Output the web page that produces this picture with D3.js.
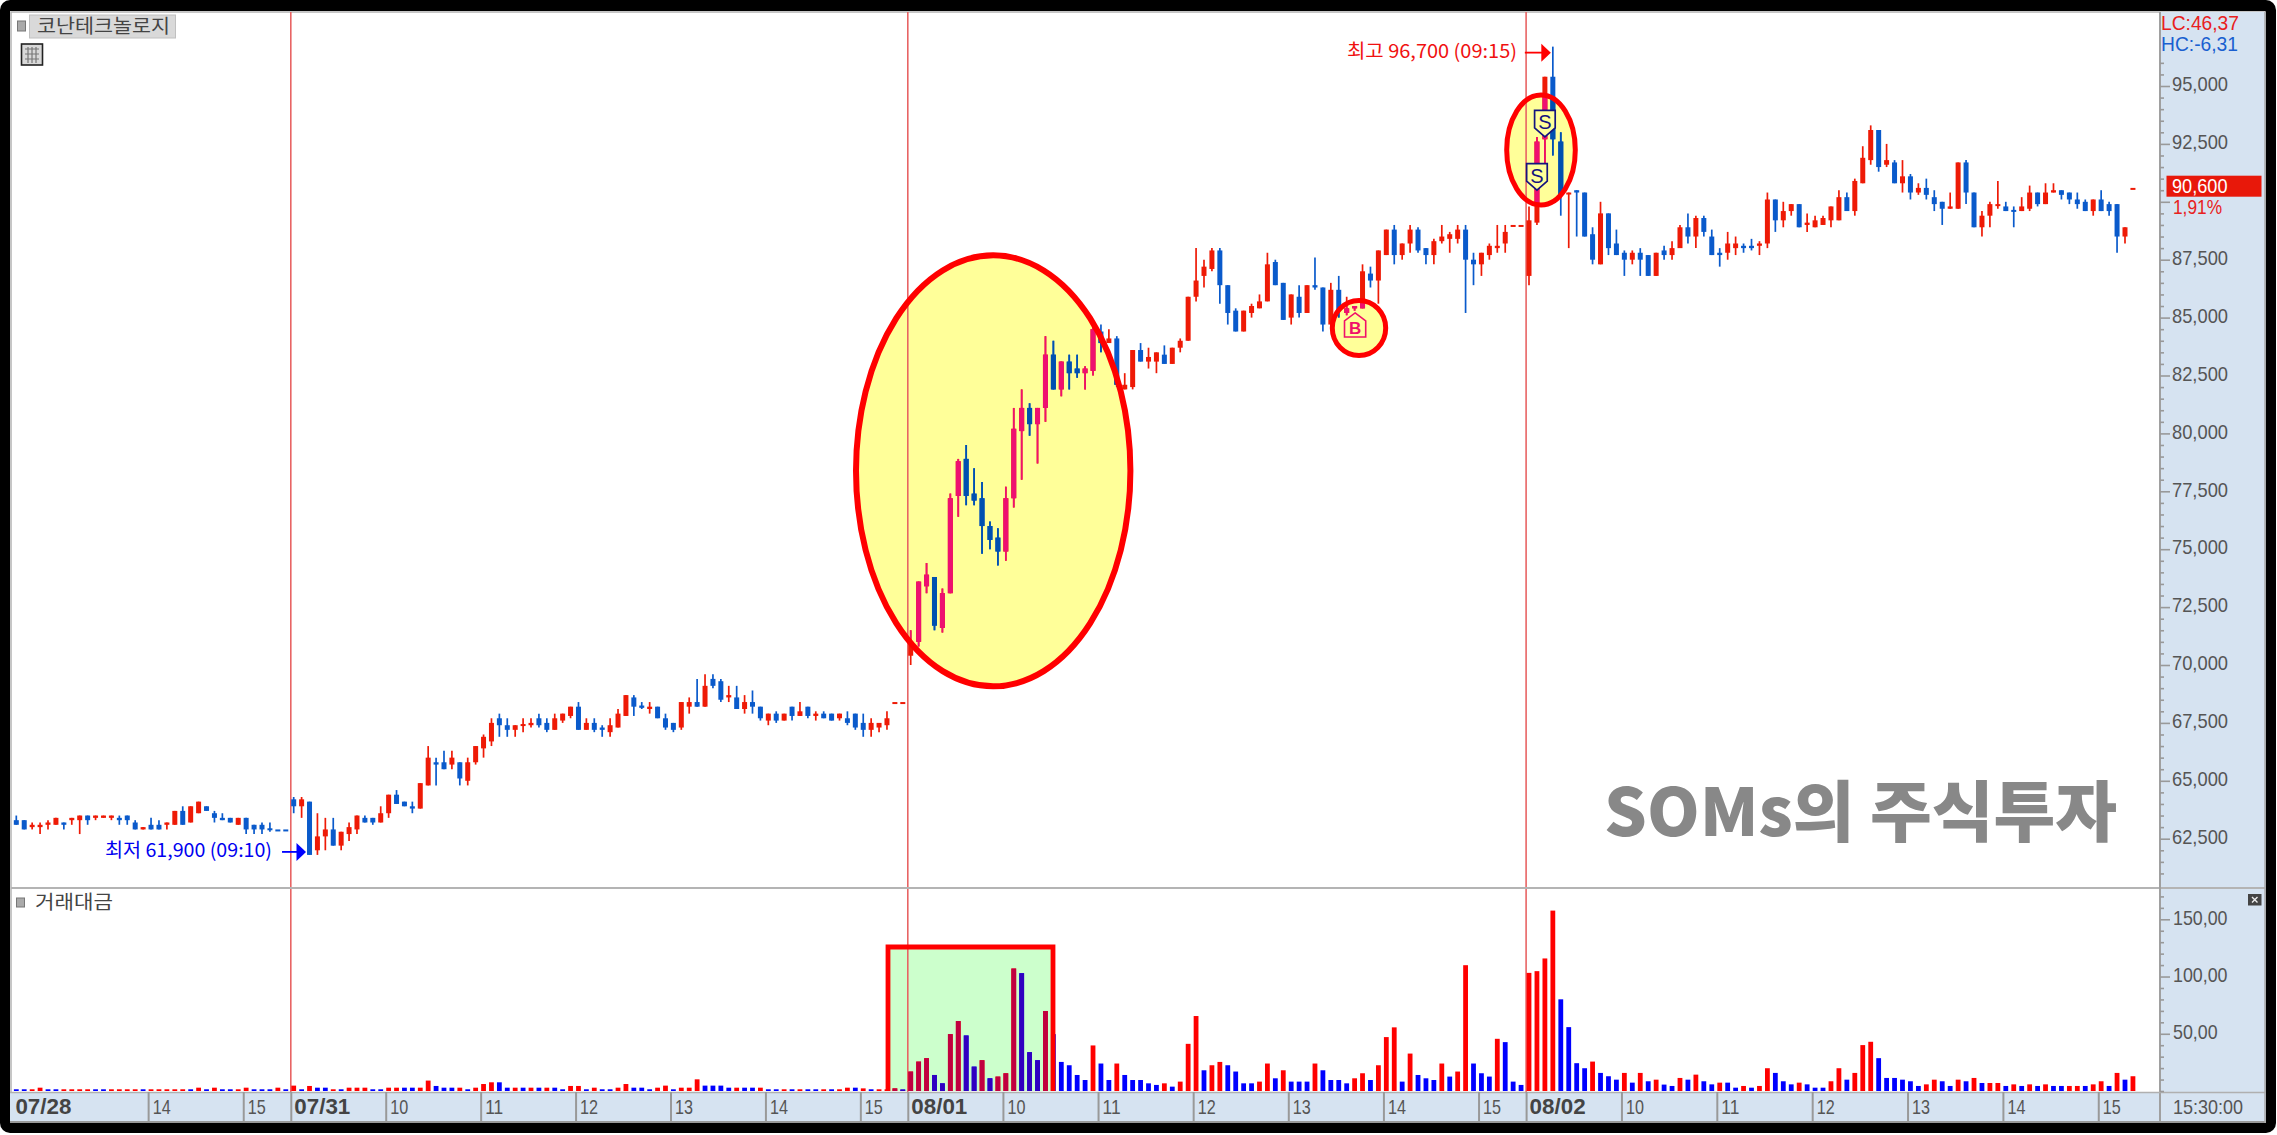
<!DOCTYPE html>
<html><head><meta charset="utf-8">
<script src="https://cdn.jsdelivr.net/npm/d3@7"></script>
<style>html,body{margin:0;padding:0;background:#fff;overflow:hidden}svg{display:block}</style>
</head><body><svg id="c" width="2277" height="1135"></svg>
<script>
// [open, high, low, close]
const candlesJul28=[[63300,63500,63100,63100],[63300,63300,62900,62900],[63000,63200,62900,63100],[63000,63200,62700,63100],[63100,63300,62900,63200],[63100,63400,63100,63400],[63200,63200,62900,63100],[63300,63400,63100,63400],[63300,63500,62700,63500],[63500,63500,63100,63300],[63400,63500,63300,63500],[63400,63500,63400,63500],[63400,63500,63300,63500],[63400,63500,63100,63300],[63500,63500,63100,63300],[63200,63300,62900,62900],[62900,63000,62900,63000],[63100,63400,62900,62900],[63100,63300,62900,62900],[63100,63200,62900,63200],[63100,63700,63100,63700],[63700,63900,63100,63100],[63200,63900,63200,63900],[63600,64100,63600,64100],[63900,63900,63700,63700],[63600,63700,63200,63400],[63400,63600,63300,63300],[63400,63400,63200,63200],[63100,63400,63100,63400],[63400,63400,62700,62900],[63100,63100,62700,62900],[63100,63200,62700,62900],[62950,63200,62800,62900],[62900,62900,62900,62890],[62900,62900,62900,62890]];
const candlesJul31=[[64200,64300,63600,63900],[63900,64300,63400,64200],[64100,64100,61800,61800],[62000,63600,61800,62600],[62600,63400,62000,62900],[62900,63400,62200,62200],[62200,62800,62000,62800],[62700,63200,62400,63000],[62900,63500,62700,63500],[63400,63500,63200,63200],[63400,63400,63100,63200],[63200,63900,63200,63600],[63600,64400,63400,64400],[64400,64600,64000,64000],[64100,64100,63900,63900],[63900,64100,63600,63800],[63800,64900,63800,64900],[64800,66500,64800,66000],[65800,66000,64800,65700],[65800,66300,65500,65500],[65700,66300,65500,66000],[65800,65800,64800,65100],[65000,66000,64800,65800],[65800,66500,65700,66500],[66400,67000,66000,66900],[66700,67700,66500,67500],[67700,67900,66900,67400],[67400,67700,66900,67200],[67200,67400,66900,67400],[67400,67700,67100,67450],[67400,67700,67300,67500],[67700,67900,67300,67400],[67500,67700,67100,67200],[67200,67900,67200,67700],[67600,67900,67500,67900],[67800,68200,67700,68200],[68200,68400,67200,67200],[67200,67700,67200,67500],[67500,67700,67100,67200],[67300,67400,66900,67200],[67100,67700,66900,67400],[67300,68100,67300,67900],[67800,68700,67800,68700],[68600,68700,67800,68200],[68250,68400,68100,68150],[68100,68400,67900,68200],[68200,68200,67700,67700],[67700,67900,67200,67300],[67500,67500,67100,67200],[67300,68400,67200,68400],[68200,68600,67900,68400],[68400,69400,68200,68200],[68200,69600,68200,69100],[69400,69600,69000,69100],[69300,69400,68400,68500],[68600,69100,68400,68700],[68600,69100,68100,68100],[68100,68700,67900,68400],[68400,68900,67900,68200],[68200,68200,67600,67700],[67600,67900,67400,67900],[67900,68000,67500,67600],[67600,67900,67600,67900],[68200,68200,67600,67800],[67800,68400,67800,68000],[68200,68200,67700,67800],[67800,68000,67600,67900],[67900,68000,67700,67700],[67900,67900,67600,67600],[67700,67900,67600,67900],[67700,68000,67400,67500],[67900,67900,67200,67300],[67500,67900,66900,67200],[67200,67700,66900,67500],[67300,67500,67100,67500],[67400,68000,67200,67700],[68400,68400,68400,68400],[68400,68400,68400,68400]];
const candlesAug01=[[70400,71500,70000,71000],[71000,73600,70800,73600],[73400,74400,73100,73900],[73800,73800,71500,71700],[71600,73300,71400,73100],[73100,77400,73100,77200],[77300,78900,76400,78800],[78900,79500,76900,77300],[77400,78500,76900,77100],[77200,77900,74800,76000],[76000,76200,75000,75400],[75500,75900,74300,74900],[74900,77700,74500,77200],[77200,81100,76800,80200],[80100,81900,78000,81100],[81100,81300,79900,80400],[80400,81100,78700,81100],[81100,84200,80500,83400],[83400,84000,81900,81900],[81900,83100,81600,83100],[83100,83400,81900,82600],[82800,83400,82400,82600],[82600,82900,81900,82800],[82700,84600,82500,84500],[84400,84700,83500,83900],[83900,84500,83900,84100],[84100,84200,82000,82100],[81900,82600,81900,82100],[82000,83600,81900,83600],[83600,83900,83100,83100],[83100,83700,82800,83300],[83100,83500,82600,83500],[83400,83800,83000,83000],[83000,83700,83000,83700],[83700,84100,83500,84000],[84000,85900,84000,85900],[85900,88000,85700,86600],[86800,87500,86300,87200],[87100,88000,87000,87900],[87900,88000,85600,86400],[86400,86400,84700,85200],[85300,85400,84400,84400],[84400,85300,84400,85300],[85200,85600,85000,85500],[85400,86000,85400,85700],[85700,87800,85700,87300],[87400,87500,86400,86400],[86500,86500,84900,84900],[85000,86000,84700,86000],[85900,86400,85000,85200],[85200,86400,85200,86400],[86400,87600,86200,86300],[86300,86300,84400,84700],[84700,86500,84500,86200],[86200,86800,85000,85300],[85200,85900,85100,85400],[85400,85500,85300,85500],[85400,87300,85400,87000],[86900,87200,86300,86600],[86600,87900,85600,87900],[87700,88800,87700,88800],[88800,89000,87300,87700],[87700,88200,87500,88200],[88200,89000,87800,88800],[88800,88900,87800,87900],[88000,88000,87300,87700],[87700,88400,87300,88300],[88300,89000,88200,88500],[88400,88700,87800,88600],[88400,89000,88200,88800],[88800,89000,85200,87500],[87500,87800,86400,87300],[87300,87800,86800,87800],[87700,88200,87500,88100],[88000,89000,87800,88100],[88200,89000,87800,88700],[89000,89000,89000,89000],[89000,89000,89000,89000]];
const candlesAug02=[[86800,89800,86400,89200],[89100,92800,89000,92600],[92700,95400,91600,95400],[95400,96700,92000,92700],[92600,93000,89400,90300],[90350,90400,88000,90400],[90500,90500,88500,90400],[90400,90400,88500,88500],[88600,88900,87300,87500],[87300,90000,87300,89500],[89500,89500,87700,88000],[88200,88800,87700,87700],[87800,87900,86800,87500],[87500,87900,87300,87800],[87800,88000,86800,87500],[87700,87700,86800,86800],[86800,87800,86800,87800],[87900,88100,87500,87700],[87700,88300,87500,88000],[88000,89000,88000,88900],[88900,89500,88200,88500],[88500,89400,88000,89300],[89300,89400,88500,88700],[88500,88800,87700,87700],[87800,88000,87200,87700],[87800,88700,87500,88200],[88000,88500,87700,88200],[88100,88200,87800,88000],[88100,88400,87900,88000],[88100,88300,87700,88200],[88200,90400,88000,90100],[90100,90100,88700,89200],[89200,90000,88900,89600],[89600,89900,89400,89900],[89900,89900,88900,88900],[89000,89500,88700,89100],[88900,89400,88900,89200],[89000,89400,89000,89300],[89200,89800,88900,89800],[89200,90500,89200,90200],[90200,90400,89600,89600],[89600,91000,89400,90900],[90800,92400,90800,91900],[91800,93300,91600,93100],[93100,93100,91300,91500],[91600,92500,91500,91800],[91700,91800,90800,90800],[90800,91800,90400,91100],[91100,91200,90100,90400],[90400,90800,90300,90600],[90600,91000,90100,90300],[90200,90500,89600,89900],[90000,90000,89000,89700],[89700,90400,89700,89800],[89700,91700,89700,91700],[91700,91800,89900,90400],[90400,90400,88900,88900],[88900,89600,88500,89400],[89400,90000,88900,89900],[89850,90900,89700,89900],[89800,90000,89600,89600],[89650,89800,88900,89600],[89600,90200,89600,89800],[89700,90700,89600,90400],[90400,90400,89800,89900],[89900,90800,89900,90400],[90400,90800,90400,90500],[90500,90500,90100,90300],[90400,90400,89900,90100],[90100,90400,89700,89900],[90000,90100,89600,89600],[89600,90100,89400,90100],[90100,90500,89600,89600],[89900,90000,89400,89600],[89900,89900,87800,88500],[88500,88900,88200,88900],[90600,90600,90600,90600]];

const turnoverJul28=[1.5,1.5,1.5,2.9,1.5,1.5,1.5,1.5,1.5,1.5,1.5,1.5,1.5,1.5,1.5,1.5,1.5,1.5,1.5,1.5,1.5,1.5,1.5,2.9,1.5,2.9,1.5,1.5,1.5,2.9,1.5,1.5,1.5,2.9,1.5];
const turnoverJul31=[4.7,1.5,4.4,2.9,2.9,1.5,1.5,2.9,2.9,2.9,1.5,1.5,2.9,2.9,2.9,2.9,2.9,9.1,4.4,2.9,2.9,2.9,1.5,2.9,6.1,7.6,7.6,2.9,2.9,2.9,2.9,2.9,2.9,2.9,1.5,4.4,4.4,1.5,2.9,1.5,1.5,2.9,6.1,2.9,2.9,1.5,2.9,4.7,1.5,2.9,2.9,10.2,4.7,4.7,4.7,2.9,2.9,2.9,2.9,2.9,1.5,1.5,1.5,1.5,1.5,1.5,1.5,1.5,1.5,1.5,2.9,2.9,2.3,1.5,1.5,1.5,2.3,1.3];
const turnoverAug01=[17,25.7,28.7,14,6.7,49.7,61.1,48.5,21.3,26.9,11.1,12.6,15.5,107,102.9,33.9,26.9,69.9,49.7,25.4,22.5,14,9.6,39.8,24,9.6,24,14,9.6,9.6,6.7,5.3,6.7,3.8,8.2,41.2,65.5,18.1,22.5,25.4,22.5,17,6.7,6.7,8.2,24,11.1,18.1,8.2,8.2,8.2,24,18.1,9.6,9.6,6.7,11.1,15.5,9.6,22.5,47.1,55.6,8.2,32.7,14,11.1,9.6,24,12.6,17,109.9,24,15.5,12.6,45.6,42.7,8.2,5.3];
const turnoverAug02=[103.2,104.7,115.8,157.6,80.1,55.8,24.3,19.9,25.7,15.8,12.9,9.9,15.8,7.3,15.8,8.5,9.9,5.6,4.4,11.4,9.9,14.3,8.5,5.8,7.3,7.3,2.9,4.4,2.9,4.4,19.9,15.8,8.5,5.8,7.3,5.8,2.9,2.9,8.5,19.9,9.9,15.8,40.1,43,28.7,11.4,11.4,9.9,8.5,4.4,5.8,9.9,8.5,4.4,9.9,8.5,11.4,7,7,7,4.4,5.8,4.4,5.8,4.4,5.8,4.4,4.4,4.4,4.4,4.4,5.8,8.5,4.4,15.8,9.9,12.9];
// R = rising bar, B = falling bar
const turnoverDirJul28="BBRRBBRRRR"+"BBRRRRBRRR"+"RRBRBRBBRR"+"BBBRB";
const turnoverDirJul31="RBRBBRBRRR"+"BBRRBBRRBB"+"BRBRRRBBRB"+"RBRBBRRBRB"+"BRRBBBRRBR"+"RRBBBBRBBR"+"BBRBRBBRBR"+"RBRBRRRB";
const turnoverDirAug01="RRRBBRRBBR"+"BRRRBBBRBB"+"BBBRBBRBBB"+"BBRBRRRBRR"+"BBBBRRBRBB"+"BRBBBBRRBR"+"RRBRBBBRBR"+"RBBBRBBB";
const turnoverDirAug02="RRRRBBBBRB"+"BBRBRBRBBR"+"BRBBRBBRBR"+"RBBBRBBBRR"+"BRRRBBBBBB"+"RRBBRBRBRR"+"BRBRBRBBRR"+"BRRBRBR";

const priceTicks=[62500,65000,67500,70000,72500,75000,77500,80000,82500,85000,87500,90000,92500,95000];
const priceTickHidden=[90000]; // covered by the current-price tag in the reference
const turnoverTicks=[50,100,150];
const turnoverTickLabels=["50,00","100,00","150,00"];
const xTickIndex=[0,17,29,35,47,59,71,83,95,107,113,125,137,149,161,173,185,191,203,215,227,239,251,263];
const xTickLabels=["07/28","14","15","07/31","10","11","12","13","14","15","08/01","10","11","12","13","14","15","08/02","10","11","12","13","14","15"];
const dayStartIndex=[35,113,191];
const buySignals=[[169,85200]];
const sellSignals=[[192,90500],[193,92800]];
const highPoint=[194,96700], lowPoint=[37,61800];

const candles=[...candlesJul28,...candlesJul31,...candlesAug01,...candlesAug02].map((r,i)=>({i,o:r[0],h:r[1],l:r[2],c:r[3]}));
const dirs=turnoverDirJul28+turnoverDirJul31+turnoverDirAug01+turnoverDirAug02;
const turnover=[...turnoverJul28,...turnoverJul31,...turnoverAug01,...turnoverAug02].map((v,i)=>({i,v,d:dirs[i]}));

const x=d3.scaleLinear().domain([0,35,113,191,266]).range([16.3,293.7,910.7,1529,2125]);
const y=d3.scaleLinear().domain([62500,95000]).range([838.7,86]);
const yV=d3.scaleLinear().domain([0,150]).range([1091,919.3]);
const DIV=2.9;

const FONT='"Liberation Sans",Arial,sans-serif', KR='"Noto Sans CJK KR","Noto Sans",sans-serif';
const svg=d3.select("#c");
const defs=svg.append("defs");
const bigE={cx:993.2,cy:470.8,rx:137.2,ry:215.5,w:6}, sE={cx:1541,cy:150,rx:34.3,ry:55,w:5}, bE={cx:1359,cy:328,rx:26.7,ry:27.5,w:5};
const cp=defs.append("clipPath").attr("id","inEllipses");
[bigE,sE,bE].forEach(e=>cp.append("ellipse").attr("cx",e.cx).attr("cy",e.cy).attr("rx",e.rx).attr("ry",e.ry));
const rectBox={x:888,y:947,w:165,h:144};
defs.append("clipPath").attr("id","inBox").append("rect").attr("x",rectBox.x).attr("y",rectBox.y).attr("width",rectBox.w).attr("height",rectBox.h);

// frame
svg.append("rect").attr("width",2276).attr("height",1133).attr("rx",10).attr("fill","#000");
svg.append("rect").attr("x",10).attr("y",11).attr("width",2255.5).attr("height",1112).attr("fill","#fff");
svg.append("path").attr("d","M11,1092V12H2265").attr("fill","none").attr("stroke","#b4b4b4").attr("stroke-width",1.5);
// axis panels
svg.append("rect").attr("x",2160).attr("y",12).attr("width",105.5).attr("height",1111).attr("fill","#d6e3f1");
svg.append("rect").attr("x",10).attr("y",1093).attr("width",2255.5).attr("height",30).attr("fill","#d6e3f1");

// annotation fills
[bigE,sE,bE].forEach(e=>svg.append("ellipse").attr("cx",e.cx).attr("cy",e.cy).attr("rx",e.rx).attr("ry",e.ry).attr("fill","#ffff99"));
svg.append("rect").attr("x",rectBox.x).attr("y",rectBox.y).attr("width",rectBox.w).attr("height",rectBox.h).attr("fill","#ccffcc");

// day lines
svg.append("g").selectAll("line").data(dayStartIndex).join("line")
  .attr("x1",d=>x(d)-DIV).attr("x2",d=>x(d)-DIV).attr("y1",12).attr("y2",1092)
  .attr("stroke","#e86464").attr("stroke-width",1.6);

function drawCandles(g,up,down){
  const col=d=>d.c>=d.o?up:down;
  const s=g.selectAll("g").data(candles).join("g");
  s.append("line").attr("x1",d=>x(d.i)).attr("x2",d=>x(d.i)).attr("y1",d=>y(d.h)).attr("y2",d=>y(d.l))
    .attr("stroke",col).attr("stroke-width",1.7);
  s.append("rect").attr("x",d=>x(d.i)-2.5).attr("width",5)
    .attr("y",d=>Math.min(y(d.o),y(d.c)))
    .attr("height",d=>Math.max(2,Math.abs(y(d.o)-y(d.c))))
    .attr("fill",col);
}
drawCandles(svg.append("g"),"#ee1a06","#0a5acb");
drawCandles(svg.append("g").attr("clip-path","url(#inEllipses)"),"#ee1070","#0050b0");

function drawBars(g,up,down){
  g.selectAll("rect").data(turnover).join("rect")
   .attr("x",d=>x(d.i)-2.4).attr("width",4.8)
   .attr("y",d=>yV(d.v)).attr("height",d=>yV(0)-yV(d.v))
   .attr("fill",d=>d.d==="R"?up:down);
}
drawBars(svg.append("g"),"#ff0000","#0000ff");
drawBars(svg.append("g").attr("clip-path","url(#inBox)"),"#c00040","#3000c0");

// annotation strokes
[bigE,sE,bE].forEach(e=>svg.append("ellipse").attr("cx",e.cx).attr("cy",e.cy).attr("rx",e.rx).attr("ry",e.ry).attr("fill","none").attr("stroke","#ff0000").attr("stroke-width",e.w));
svg.append("path").attr("d",`M${rectBox.x},1091V${rectBox.y}H${rectBox.x+rectBox.w}V1091`).attr("fill","none").attr("stroke","#ff0000").attr("stroke-width",4.8);

// signals
sellSignals.forEach(([i,p])=>{
  const cx=x(i),t=y(p);
  const g=svg.append("g").attr("transform",`translate(${cx},${t})`);
  g.append("path").attr("d","M0,0L10.3,-9V-26.5H-10.3V-9Z").attr("fill","#ffff99").attr("stroke","#14147f").attr("stroke-width",1.7);
  g.append("text").attr("y",-7.5).attr("text-anchor","middle").attr("font-family",FONT).attr("font-size",20).attr("fill","#14147f").text("S");
});
buySignals.forEach(([i,p])=>{
  const cx=x(i)+.5,t=y(p);
  const g=svg.append("g").attr("transform",`translate(${cx},${t})`);
  g.append("path").attr("d","M0,0L10.6,8V24H-10.6V8Z").attr("fill","none").attr("stroke","#f0106a").attr("stroke-width",1.6);
  g.append("text").attr("y",21).attr("text-anchor","middle").attr("font-family",FONT).attr("font-weight","bold").attr("font-size",17).attr("fill","#f0106a").text("B");
});

function txt(px,py,s,o={}){
  const t=svg.append("text").attr("x",px).attr("y",py).attr("dy","0.35em").text(s)
    .attr("font-family",o.font||FONT).attr("font-size",o.size||21).attr("fill",o.fill||"#555")
    .attr("font-weight",o.weight||"normal");
  if(o.width) t.attr("textLength",o.width).attr("lengthAdjust","spacingAndGlyphs");
  return t;
}
// high / low
const hx=x(highPoint[0])-2, hy=y(highPoint[1])+6;
svg.append("path").attr("d",`M${hx-26},${hy}H${hx-8}`).attr("stroke","#f00").attr("stroke-width",1.8);
svg.append("path").attr("d",`M${hx},${hy}L${hx-9.5},${hy-9}V${hy+9}Z`).attr("fill","#f00");
txt(1347,51,"최고 96,700 (09:15)",{font:KR,size:19,fill:"#f01010",width:170});
const lx=x(lowPoint[0])-3.5, ly=y(lowPoint[1])-3;
svg.append("path").attr("d",`M${lx-24},${ly}H${lx-8}`).attr("stroke","#00f").attr("stroke-width",1.8);
svg.append("path").attr("d",`M${lx},${ly}L${lx-9.5},${ly-9}V${ly+9}Z`).attr("fill","#00f");
txt(105,850,"최저 61,900 (09:10)",{font:KR,size:19,fill:"#0000f0",width:167});

// panel separator & axis lines
svg.append("line").attr("x1",11).attr("x2",2265).attr("y1",888).attr("y2",888).attr("stroke","#b4b4b4").attr("stroke-width",2);
svg.append("line").attr("x1",2160).attr("x2",2160).attr("y1",12).attr("y2",1123).attr("stroke","#a0a0a0").attr("stroke-width",2);
svg.append("line").attr("x1",10).attr("x2",2265).attr("y1",1092.5).attr("y2",1092.5).attr("stroke","#b0b0b0").attr("stroke-width",1.5);
svg.append("line").attr("x1",10).attr("x2",2265.5).attr("y1",1122).attr("y2",1122).attr("stroke","#999").attr("stroke-width",2);
svg.append("line").attr("x1",2265).attr("x2",2265).attr("y1",12).attr("y2",1123).attr("stroke","#a8a8a8").attr("stroke-width",1.5);

function styleAxis(g){
  g.select(".domain").remove();
  g.selectAll(".tick line").attr("stroke","#999").attr("stroke-width",1.6);
  g.selectAll(".tick text").attr("font-family",FONT).attr("font-size",21).attr("fill","#555");
}
const pAxis=svg.append("g").attr("transform","translate(2160,0)")
  .call(d3.axisRight(y).tickValues(priceTicks).tickSize(10).tickSizeOuter(0).tickPadding(2).tickFormat(d3.format(",")));
styleAxis(pAxis);
pAxis.selectAll(".tick text").attr("y",-2).attr("textLength",56).attr("lengthAdjust","spacingAndGlyphs");
pAxis.selectAll(".tick").filter(d=>priceTickHidden.includes(d)).select("text").remove();
const pMinor=svg.append("g").attr("transform","translate(2160,0)")
  .call(d3.axisRight(y).tickValues(d3.range(61000,96001,500).filter(v=>!priceTicks.includes(v))).tickSize(4).tickSizeOuter(0).tickFormat(""));
styleAxis(pMinor);

const vAxis=svg.append("g").attr("transform","translate(2160,0)")
  .call(d3.axisRight(yV).tickValues(turnoverTicks).tickSize(10).tickSizeOuter(0).tickPadding(3).tickFormat((d,i)=>turnoverTickLabels[i]));
styleAxis(vAxis);
vAxis.selectAll(".tick text").attr("y",-2).each(function(d,i){
  d3.select(this).attr("textLength",i===0?44.6:54.5).attr("lengthAdjust","spacingAndGlyphs");});
const vMinor=svg.append("g").attr("transform","translate(2160,0)")
  .call(d3.axisRight(yV).tickValues(d3.range(0,171,10).filter(v=>!turnoverTicks.includes(v))).tickSize(4).tickSizeOuter(0).tickFormat(""));
styleAxis(vMinor);

const xAxisScale=x.copy().range(x.range().map(v=>v-DIV));
const xAxis=svg.append("g").attr("transform","translate(0,1092)")
  .call(d3.axisBottom(xAxisScale).tickValues(xTickIndex).tickSize(30).tickSizeOuter(0).tickFormat((d,i)=>xTickLabels[i]));
styleAxis(xAxis);
xAxis.selectAll(".tick").filter(d=>d===0).select("line").remove();
xAxis.selectAll(".tick line").attr("stroke-width",2);
xAxis.selectAll(".tick text").each(function(d,i){
  const day=xTickLabels[i].includes("/");
  d3.select(this).attr("x",i===0?1.5:(day?3:4)).attr("y",14.7).attr("dy","0.35em").attr("text-anchor","start")
    .attr("font-size",day?22:21).attr("font-weight",day?"bold":"normal").attr("fill",day?"#444":"#555")
    .attr("textLength",day?56:18).attr("lengthAdjust","spacingAndGlyphs");
});
txt(2173,1106.7,"15:30:00",{width:70});

// price label & legend items
txt(2161,23,"LC:46,37",{fill:"#e82020",size:21,width:78});
txt(2161,43.5,"HC:-6,31",{fill:"#1a5fd0",size:21,width:77});
svg.append("rect").attr("x",2166.5).attr("y",175.7).attr("width",95).attr("height",21).attr("fill","#e8180a");
txt(2172,186,"90,600",{fill:"#fff",width:55.5});
txt(2173,206.5,"1,91%",{fill:"#e82020",width:49});

// title
svg.append("rect").attr("x",17.5).attr("y",21).attr("width",8).attr("height",10).attr("fill","#aaa").attr("stroke","#777");
svg.append("rect").attr("x",29.5).attr("y",15).attr("width",146).attr("height",23).attr("fill","#d9d9d9").attr("stroke","#c0c0c0");
txt(37,26.5,"코난테크놀로지",{font:KR,size:19,fill:"#444",width:133});
svg.append("rect").attr("x",21.5).attr("y",44).attr("width",21).attr("height",21).attr("fill","#d8d8d8").attr("stroke","#222").attr("stroke-width",1.6);
svg.append("path").attr("d","M25,49H39M25,54H39M25,59H39M28,47V63M32,47V63M36,47V63").attr("stroke","#777").attr("stroke-width",1.2);
svg.append("rect").attr("x",16.5).attr("y",898).attr("width",8).attr("height",9).attr("fill","#aaa").attr("stroke","#777");
txt(35,902,"거래대금",{font:KR,size:19,fill:"#444",width:78});
// close button
svg.append("rect").attr("x",2248).attr("y",894).attr("width",13.5).attr("height",11.5).attr("fill","#444");
svg.append("path").attr("d","M2252,897L2257.5,902.5M2257.5,897L2252,902.5").attr("stroke","#eee").attr("stroke-width",1.4);
// watermark
txt(1604,813,"SOMs의 주식투자",{font:KR,size:66,weight:900,fill:"#888",width:513});
</script></body></html>
